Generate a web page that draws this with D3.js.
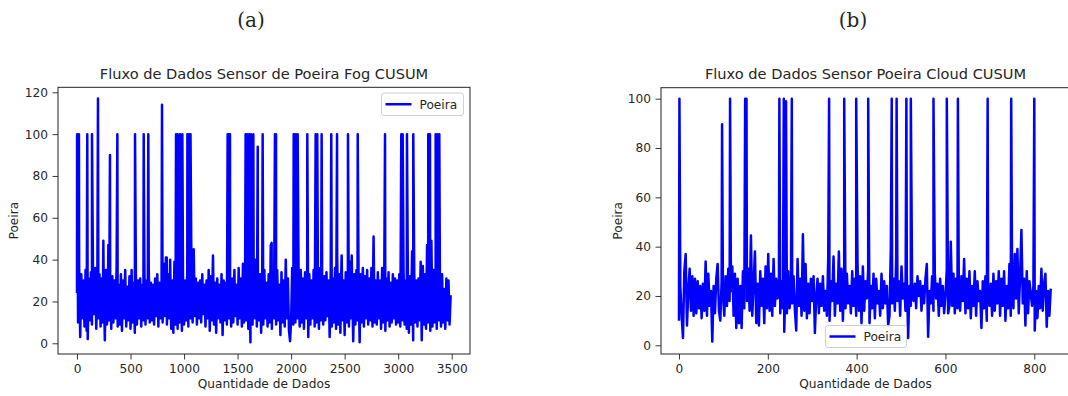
<!DOCTYPE html>
<html>
<head>
<meta charset="utf-8">
<script src="https://cdn.jsdelivr.net/npm/d3@7"></script>
<style>
html,body{margin:0;padding:0;background:#fff;}
svg{display:block;}
text{font-family:"DejaVu Sans",sans-serif;fill:#262626;}
</style>
</head>
<body>
<svg id="chart" width="1068" height="396"></svg>
<script>
// ---------------- DATA ----------------
// Panel (a): Fog CUSUM — baseline readings every 10 samples
const fogStep = 10;
const fogBase = [
 24,10,37,3,33,12,30,8,35,6,
 2,31,11,34,9,29,14,36,7,30,
 12,33,8,31,10,28,1.5,35,9,33,
 11,29,7,32,10,30,12,37,8,28,
 9,33,6,30,12,35,8,27,11,32,
 7,35,10,29,5,33,9,30,12,31,
 8,28,11,34,9,30,12,36,10,29,
 11,28,9,31,13,33,8,29,12,30,
 10,38,13,41,9,33,12,40,7,30,
 5,39,9,31,7,33,10,29,6,32,
 9,30,11,35,8,33,12,28,10,45,
 13,31,9,29,12,30,10,33,14,28,
 8,30,12,35,6,32,11,42,9,29,
 5,31,12,28,10,33,4,30,11,29,
 9,32,12,30,8,31,10,35,13,28,
 9,36,12,31,8,38,10,33,11,40,
 7,37,0.5,39,9,34,12,40,8,31,
 11,33,5,30,9,35,12,29,8,33,
 10,47,7,33,12,31,9,35,11,28,
 4,34,10,30,8,40,12,31,6,1,
 11,36,9,33,10,38,12,30,8,35,
 10,31,7,34,12,29,3,33,9,30,
 12,35,8,31,10,33,7,36,11,29,
 9,32,11,34,13,30,3,35,8,31,
 10,36,7,42,9,33,5,38,11,30,
 4,34,10,31,8,39,12,29,1,33,
 9,35,11,30,0.5,33,10,36,8,32,
 12,35,9,31,11,36,8,51,10,30,
 9,34,12,30,7,36,10,33,6,31,
 11,34,8,29,10,33,12,31,9,30,
 10,33,8,31,11,35,9,30,7,34,
 5,32,9,44,1.5,34,10,30,8,31,
 11,39,1.5,37,9,33,7,47,10,31,
 6,49,8,35,10,33,7,30,11,28,
 8,33,10,26,7,31,11,30,9,23
];
const fogSpikeX = [1,18,96,140,196,246,293,308,377,542,623,666,794,838,925,940,962,984,1031,1049,1060,
 1407,1418,1429,1575,1590,1609,1625,1647,1688,1734,1818,1849,1859,2024,2043,2061,2151,2229,2244,2285,
 2375,2429,2472,2531,2566,2622,2877,3029,3042,3082,3141,3281,3297,3350,3365,3384];
const fogSpikeY = [100,100,100,100,117,49,47,90,100,100,100,100,114,41,100,100,100,100,100,100,100,
 100,100,100,100,100,100,100,100,94,100,48,100,100,100,100,100,100,100,100,100,
 100,100,42,100,42,100,100,100,100,100,100,100,100,100,100,100];

// Panel (b): Cloud CUSUM — baseline readings every 3 samples
const cloudStep = 3;
const cloudBase = [
 10,24,12,3,30,37,8,22,31,14,
 28,12,27,13,26,15,24,11,25,14,
 34,12,29,16,22,1.5,24,13,27,33,
 14,10,26,21,12,28,16,31,18,22,
 32,12,29,7,27,9,24,7,30,15,
 26,18,31,14,44.5,12,25,38,9,25,
 8,30,16,27,9,32,15,37,14,29,
 12,35,16,27,19,24,13,26,15,5.5,
 26,13,30,15,22,17,28,14,6,35,
 16,27,12,45,14,33,11,25,13,27,
 18,28,5,20,27,13,25,16,28,14,
 22,12,35,10,26,18,36,12,25,17,
 38,14,31,10,27,15,29,17,24,13,
 30,16,27,12,33,14,28,9,32,14,
 26,19,31,9,24,15,29,11,27,17,
 22,12,29,15,26,17,24,8,12,40,
 17,27,14,35,18,26,12,32,19,25,
 14,28,3,24,16,22,18,25,15,28,
 20,26,14,24,17,27,33,3.5,22,17,
 28,14,29,19,25,12,27,16,24,13,
 20,31,13,16,42,16,29,13,27,15,
 24,14,28,18,35,13,27,15,30,11,
 24,16,30,12,26,18,22,7,26,15,
 28,10,23,16,25,12,29,14,26,17,
 30,12,27,16,30,10,24,15,33,12,
 26,15,37,19,39,13,28,46.8,17,27,
 8,30,13,26,21,16,24,6,22,11,
 24,15,31,14,25,29,7.5,22,12,23
];
const cloudSpikeX = [1,97,115,149,152,226,236,241,254,338,372,399,426,479,490,512,522,573,603,628,695,748,800];
const cloudSpikeY = [100,89.6,100,100,100,100,100,99,100,100,100,100,100,100,100,100,100,100,100,100,100,100,100];

const fogXTicks = [0,500,1000,1500,2000,2500,3000,3500];
const fogYTicks = [0,20,40,60,80,100,120];
const cloudXTicks = [0,200,400,600,800];
const cloudYTicks = [0,20,40,60,80,100];

const titles = ["Fluxo de Dados Sensor de Poeira Fog CUSUM", "Fluxo de Dados Sensor Poeira Cloud CUSUM"];
const panelTags = ["(a)", "(b)"];
const xLabel = "Quantidade de Dados";
const yLabel = "Poeira";
const seriesName = "Poeira";

// ---------------- BUILD ----------------
function buildSeries(step, base, sx, sy) {
  const pts = base.map((v, i) => ({x: i * step, y: v}));
  sx.forEach((x, i) => pts.push({x: x, y: sy[i]}));
  pts.sort((a, b) => a.x - b.x);
  return pts;
}
const fogData = buildSeries(fogStep, fogBase, fogSpikeX, fogSpikeY);
const cloudData = buildSeries(cloudStep, cloudBase, cloudSpikeX, cloudSpikeY);

const svg = d3.select("#chart");
const FS = "12.2px";

function drawPanel(cfg) {
  const x = d3.scaleLinear().domain(cfg.xDomain).range([cfg.left, cfg.right]);
  const y = d3.scaleLinear().domain(cfg.yDomain).range([cfg.bottom, cfg.top]);
  const g = svg.append("g");

  const clipId = "clip" + cfg.id;
  svg.append("clipPath").attr("id", clipId).append("rect")
    .attr("x", cfg.left).attr("y", cfg.top)
    .attr("width", cfg.right - cfg.left).attr("height", cfg.bottom - cfg.top);
  g.append("path").datum(cfg.data)
    .attr("clip-path", `url(#${clipId})`)
    .attr("fill", "none").attr("stroke", "#0000ff").attr("stroke-width", 2.5)
    .attr("stroke-linejoin", "round")
    .attr("d", d3.line().x(d => x(d.x)).y(d => y(d.y)));

  const xAxis = d3.axisBottom(x).tickValues(cfg.xTicks).tickSize(5.5).tickPadding(4.5).tickFormat(d3.format("d"));
  const yAxis = d3.axisLeft(y).tickValues(cfg.yTicks).tickSize(5.5).tickPadding(4.5).tickFormat(d3.format("d"));
  const gx = g.append("g").attr("transform", `translate(0,${cfg.bottom})`).call(xAxis);
  const gy = g.append("g").attr("transform", `translate(${cfg.left},0)`).call(yAxis);
  [gx, gy].forEach(a => {
    a.select(".domain").remove();
    a.selectAll("line").attr("stroke", "#222").attr("stroke-width", 0.9);
    a.selectAll("text").style("font-family", "DejaVu Sans").style("font-size", FS).attr("fill", "#262626");
  });

  g.append("rect").attr("x", cfg.left).attr("y", cfg.top)
    .attr("width", cfg.right - cfg.left).attr("height", cfg.bottom - cfg.top)
    .attr("fill", "none").attr("stroke", "#222").attr("stroke-width", 1);

  const cx = (cfg.left + cfg.right) / 2;
  g.append("text").attr("x", cx).attr("y", 79).attr("text-anchor", "middle")
    .style("font-size", "14.6px").text(cfg.title);
  g.append("text").attr("x", cx).attr("y", 388).attr("text-anchor", "middle")
    .style("font-size", FS).text(xLabel);
  g.append("text").attr("transform", `translate(${cfg.yLabelX},${(cfg.top + cfg.bottom) / 2}) rotate(-90)`)
    .attr("text-anchor", "middle").style("font-size", FS).text(yLabel);
  g.append("text").attr("x", cfg.tagX).attr("y", 27).attr("text-anchor", "middle")
    .style("font-family", "'DejaVu Serif', serif").style("font-size", "20px").attr("fill", "#000").text(cfg.tag);

  const L = cfg.legend;
  g.append("rect").attr("x", L.x).attr("y", L.y).attr("width", L.w).attr("height", L.h)
    .attr("rx", 2.5).attr("fill", "#fff").attr("fill-opacity", 0.85)
    .attr("stroke", "#d0d0d0").attr("stroke-width", 1);
  g.append("line").attr("x1", L.x + 4).attr("x2", L.x + 30).attr("y1", L.y + L.h / 2).attr("y2", L.y + L.h / 2)
    .attr("stroke", "#0000ff").attr("stroke-width", 2.5);
  g.append("text").attr("x", L.x + 38).attr("y", L.y + L.h / 2 + 4.3).style("font-size", FS).text(seriesName);
}

drawPanel({
  id: "a", data: fogData, title: titles[0], tag: panelTags[0], tagX: 251,
  left: 58, right: 470, top: 87.3, bottom: 354,
  xDomain: [-177.5, 3670.8], yDomain: [-5.12, 122.39],
  xTicks: fogXTicks, yTicks: fogYTicks, yLabelX: 18,
  legend: {x: 381.5, y: 93, w: 82, h: 22.5}
});
drawPanel({
  id: "b", data: cloudData, title: titles[1], tag: panelTags[1], tagX: 853,
  left: 661, right: 1070, top: 87.7, bottom: 354,
  xDomain: [-40.5, 880.4], yDomain: [-3.53, 104.46],
  xTicks: cloudXTicks, yTicks: cloudYTicks, yLabelX: 622,
  legend: {x: 825.5, y: 325.5, w: 81, h: 22}
});
</script>
</body>
</html>
